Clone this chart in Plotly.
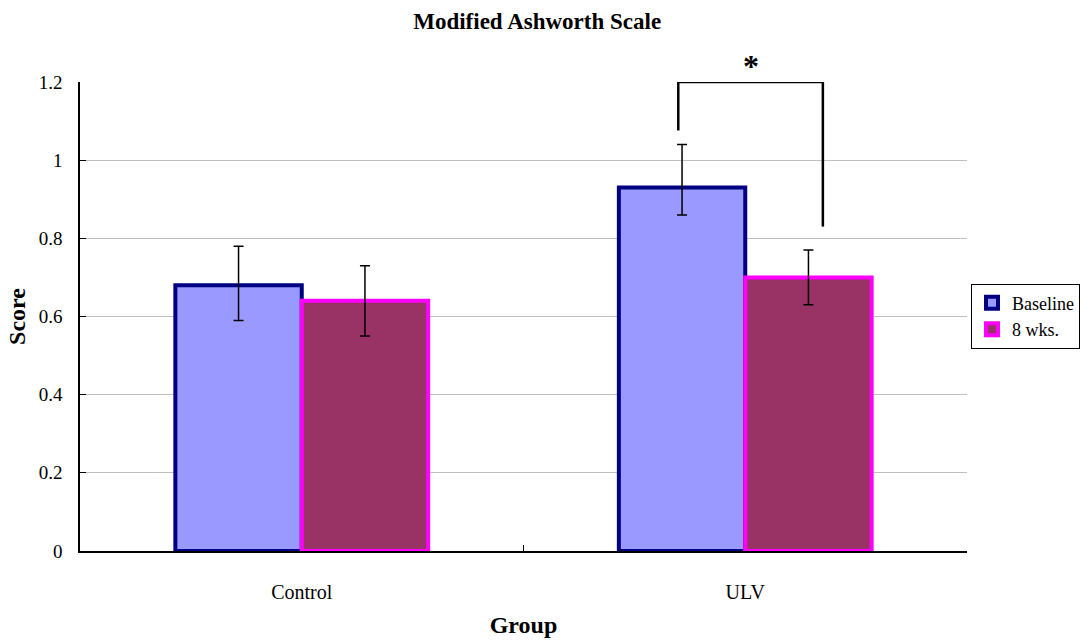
import plotly.graph_objects as go

# Data
groups = ["Control", "ULV"]
baseline = [0.68, 0.93]
baseline_err_plus = [0.10, 0.11]
baseline_err_minus = [0.09, 0.07]
wk8 = [0.64, 0.70]
wk8_err_plus = [0.09, 0.07]
wk8_err_minus = [0.09, 0.07]
y_ticks = [0, 0.2, 0.4, 0.6, 0.8, 1.0, 1.2]
y_tick_text = ["0", "0.2", "0.4", "0.6", "0.8", "1", "1.2"]

FONT = "Liberation Serif, Times New Roman, serif"

fig = go.Figure()
fig.add_trace(go.Bar(
    name="Baseline", x=groups, y=baseline,
    marker=dict(color="#9999FF", line=dict(color="#000080", width=4)),
    error_y=dict(type="data", symmetric=False, array=baseline_err_plus,
                 arrayminus=baseline_err_minus, color="black", thickness=1.5, width=5),
))
fig.add_trace(go.Bar(
    name="8 wks.", x=groups, y=wk8,
    marker=dict(color="#993366", line=dict(color="#FF00FF", width=4)),
    error_y=dict(type="data", symmetric=False, array=wk8_err_plus,
                 arrayminus=wk8_err_minus, color="black", thickness=1.5, width=5),
))

# Significance bracket over ULV
bx0, bx1 = 1 - 0.151, 1 + 0.175
fig.add_shape(type="line", xref="x", yref="y", x0=bx0, x1=bx0, y0=1.076, y1=1.2,
              line=dict(color="black", width=2.5))
fig.add_shape(type="line", xref="x", yref="y", x0=bx0, x1=bx1, y0=1.2, y1=1.2,
              line=dict(color="black", width=2.5))
fig.add_shape(type="line", xref="x", yref="y", x0=bx1, x1=bx1, y0=0.83, y1=1.2,
              line=dict(color="black", width=2.5))
fig.add_annotation(x=(bx0 + bx1) / 2, y=1.2, xref="x", yref="y", text="<b>*</b>",
                   showarrow=False, yanchor="bottom", yshift=-4,
                   font=dict(family=FONT, size=32, color="black"))

fig.update_layout(
    width=1083, height=644,
    margin=dict(l=80, r=116, t=82, b=93, autoexpand=False),
    paper_bgcolor="white", plot_bgcolor="white",
    font=dict(family=FONT, size=20, color="black"),
    title=dict(text="<b>Modified Ashworth Scale</b>", x=0.496, xanchor="center",
               y=0.968, yanchor="middle", font=dict(family=FONT, size=23)),
    barmode="group", bargap=0.43, bargroupgap=0,
    legend=dict(x=1.0045, y=0.57, xanchor="left", yanchor="top",
                bordercolor="black", borderwidth=1, bgcolor="white",
                font=dict(family=FONT, size=18), tracegroupgap=0,
                itemwidth=30),
    xaxis=dict(showline=True, linecolor="black", linewidth=1.5,
               ticks="inside", tickson="boundaries", ticklen=6, tickcolor="black",
               ticklabelstandoff=22, tickfont=dict(size=20),
               title=dict(text="<b>Group</b>", standoff=14, font=dict(size=24))),
    yaxis=dict(range=[0, 1.2], tickvals=y_ticks, ticktext=y_tick_text,
               showline=True, linecolor="black", linewidth=1.5,
               ticks="inside", ticklen=6, tickcolor="black",
               showgrid=True, gridcolor="#C0C0C0", gridwidth=1,
               zeroline=False, ticklabelstandoff=12, tickfont=dict(size=19),
               title=dict(text="<b>Score</b>", standoff=6, font=dict(size=24))),
)

fig.write_html("out.html")
